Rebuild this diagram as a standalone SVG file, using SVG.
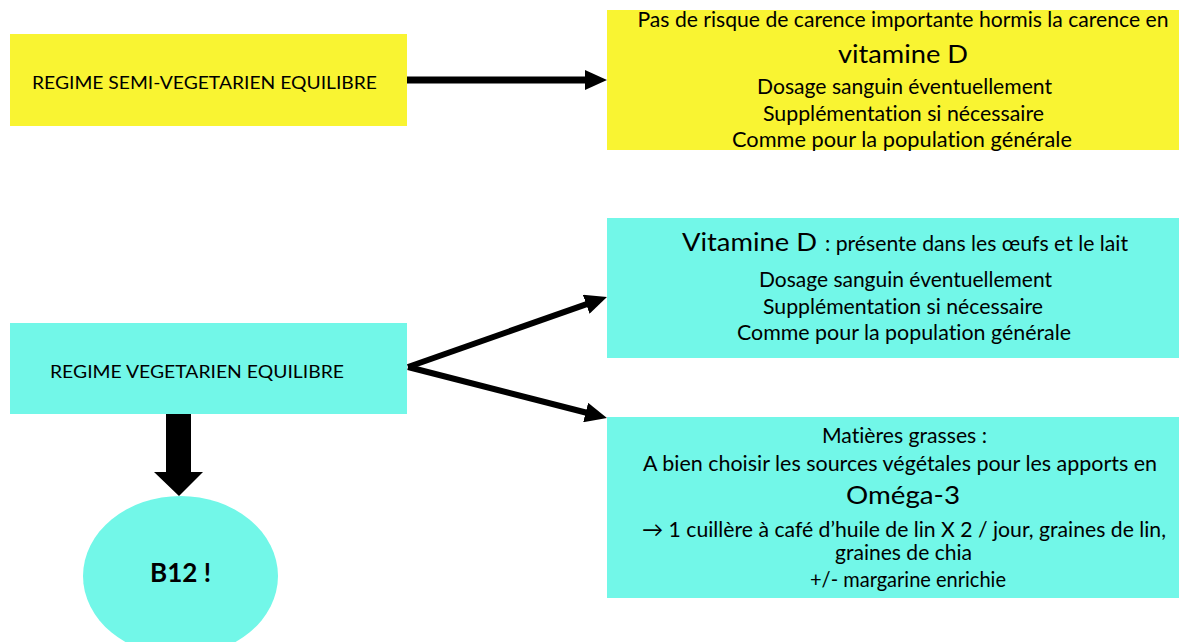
<svg xmlns="http://www.w3.org/2000/svg" width="1179" height="642" viewBox="0 0 1179 642">
  <style>
    text { font-family: Lato, "Open Sans", "Liberation Sans", sans-serif; fill: #000; font-variant-ligatures: none; }
    .body { font-size: 21px; text-anchor: middle; }
    .big { font-size: 25px; text-anchor: middle; }
    .lbl { font-size: 17px; }
    .yellow { fill: #F9F432; }
    .cyan { fill: #72F7E8; }
    .conn { stroke: #000; fill: none; }
  </style>
  <defs>
    <marker id="ah" markerUnits="userSpaceOnUse" viewBox="0 0 22 20" markerWidth="22" markerHeight="20" refX="2" refY="10" orient="auto">
      <path d="M0,0 L22,10 L0,20 Z" fill="#000"/>
    </marker>
  </defs>

  <g id="connectors">
    <line class="conn" x1="407" y1="80" x2="587" y2="80" stroke-width="7" marker-end="url(#ah)"/>
    <line class="conn" x1="408" y1="367" x2="588.1" y2="303.6" stroke-width="6" marker-end="url(#ah)"/>
    <line class="conn" x1="408" y1="367" x2="587.6" y2="413" stroke-width="6" marker-end="url(#ah)"/>
    <polygon points="166,414 191,414 191,472 203,472 179,496 154,472 166,472" fill="#000"/>
  </g>

  <g id="node-semi">
    <rect class="yellow" x="10" y="34" width="397" height="92"/>
    <text class="lbl" x="32" y="89" textLength="345" lengthAdjust="spacingAndGlyphs">REGIME SEMI-VEGETARIEN EQUILIBRE</text>
  </g>

  <g id="node-semi-info">
    <rect class="yellow" x="607" y="10" width="572" height="140"/>
    <text class="body" x="903" y="27" textLength="531" lengthAdjust="spacingAndGlyphs">Pas de risque de carence importante hormis la carence en</text>
    <text class="big" x="903" y="63" textLength="130" lengthAdjust="spacingAndGlyphs">vitamine D</text>
    <text class="body" x="904.5" y="94" textLength="295" lengthAdjust="spacingAndGlyphs">Dosage sanguin éventuellement</text>
    <text class="body" x="903.5" y="121" textLength="281" lengthAdjust="spacingAndGlyphs">Supplémentation si nécessaire</text>
    <text class="body" x="902" y="147" textLength="340" lengthAdjust="spacingAndGlyphs">Comme pour la population générale</text>
  </g>

  <g id="node-vege">
    <rect class="cyan" x="10" y="323" width="397" height="91"/>
    <text class="lbl" x="50" y="378" textLength="294" lengthAdjust="spacingAndGlyphs">REGIME VEGETARIEN EQUILIBRE</text>
  </g>

  <g id="node-vitd">
    <rect class="cyan" x="607" y="218" width="572" height="140"/>
    <text x="682" y="251" font-size="25" textLength="135" lengthAdjust="spacingAndGlyphs">Vitamine D</text>
    <text x="825" y="251" font-size="21" textLength="303" lengthAdjust="spacingAndGlyphs">: présente dans les œufs et le lait</text>
    <text class="body" x="905.5" y="287" textLength="293" lengthAdjust="spacingAndGlyphs">Dosage sanguin éventuellement</text>
    <text class="body" x="903" y="314" textLength="280" lengthAdjust="spacingAndGlyphs">Supplémentation si nécessaire</text>
    <text class="body" x="904" y="340" textLength="334" lengthAdjust="spacingAndGlyphs">Comme pour la population générale</text>
  </g>

  <g id="node-omega">
    <rect class="cyan" x="607" y="417" width="572" height="181"/>
    <text class="body" x="904.5" y="443" textLength="165" lengthAdjust="spacingAndGlyphs">Matières grasses :</text>
    <text class="body" x="900" y="471" textLength="514" lengthAdjust="spacingAndGlyphs">A bien choisir les sources végétales pour les apports en</text>
    <text class="big" x="903" y="504" textLength="114" lengthAdjust="spacingAndGlyphs">Oméga-3</text>
    <text class="body" x="904" y="537" textLength="524" lengthAdjust="spacingAndGlyphs">→ 1 cuillère à café d’huile de lin X 2 / jour, graines de lin,</text>
    <text class="body" x="903.5" y="560" textLength="137" lengthAdjust="spacingAndGlyphs">graines de chia</text>
    <text class="body" x="908" y="587" textLength="196" lengthAdjust="spacingAndGlyphs">+/- margarine enrichie</text>
  </g>

  <g id="node-b12">
    <ellipse class="cyan" cx="180.5" cy="576" rx="97.5" ry="80"/>
    <text x="180.5" y="582" font-size="27" font-weight="bold" text-anchor="middle" textLength="61" lengthAdjust="spacingAndGlyphs">B12 !</text>
  </g>
</svg>
